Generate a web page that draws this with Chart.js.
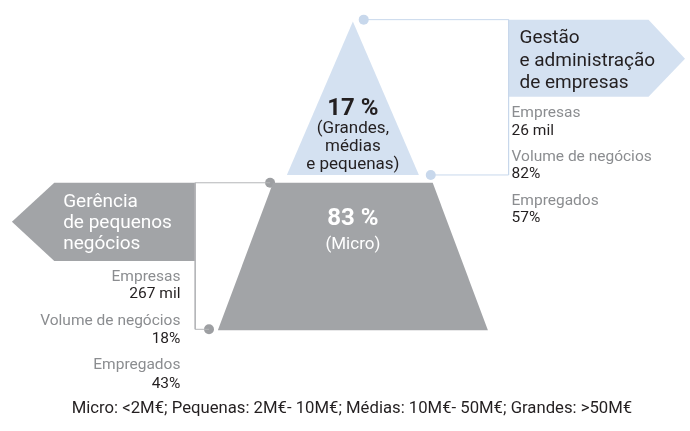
<!DOCTYPE html>
<html>
<head>
<meta charset="utf-8">
<script src="https://cdn.jsdelivr.net/npm/chart.js@4.4.1/dist/chart.umd.min.js"></script>
<style>
  html, body { margin: 0; padding: 0; background: #fff; }
  canvas { display: block; }
</style>
</head>
<body>
<canvas id="pyramid" width="690" height="431"></canvas>
<script>
// Data
const shares = [17, 83];                       // % of companies: top (Grandes, médias, pequenas), bottom (Micro)
const segmentNames = [['(Grandes,', 'médias', 'e pequenas)'], ['(Micro)']];
const topTitle = ['Gestão', 'e administração', 'de empresas'];
const bottomTitle = ['Gerência', 'de pequenos', 'negócios'];
const statNames = ['Empresas', 'Volume de negócios', 'Empregados'];
const topStats = ['26 mil', '82%', '57%'];
const bottomStats = ['267 mil', '18%', '43%'];
const footnote = 'Micro: <2M€; Pequenas: 2M€- 10M€; Médias: 10M€- 50M€; Grandes: >50M€';

// Layout (in the chart's own units, x 0..690, y 0..431 top-down)
const cx = 353;
const apexY = 17, splitY = 174, trapTop = 182, baseY = 333;
const triHalf = 67, trapTopHalf = 81, trapBaseHalf = 137;

const GRAY = '#a2a4a7';
const BLUE = '#d4e1f1';
const BLUE_DOT = '#c8d8ec';
const LABEL = '#8b8d90';
const DARK = '#231f20';
const FONT = 'Roboto, "Noto Sans", sans-serif';

const triangle = [
  { x: cx, y: apexY }, { x: cx + triHalf, y: splitY },
  { x: cx - triHalf, y: splitY }, { x: cx, y: apexY }
];
const trapezoid = [
  { x: cx - trapTopHalf, y: trapTop }, { x: cx + trapTopHalf, y: trapTop },
  { x: cx + trapBaseHalf, y: baseY }, { x: cx - trapBaseHalf, y: baseY },
  { x: cx - trapTopHalf, y: trapTop }
];
// banner boxes
const rightBox = [
  { x: 511, y: 15 }, { x: 653, y: 15 }, { x: 690, y: 55 },
  { x: 653, y: 94 }, { x: 511, y: 94 }, { x: 511, y: 15 }
];
const leftBox = [
  { x: 193, y: 182 }, { x: 50, y: 182 }, { x: 7, y: 222 },
  { x: 50, y: 262 }, { x: 193, y: 262 }, { x: 193, y: 182 }
];
// connectors
const rightLine = [{ x: 364, y: 15 }, { x: 511, y: 15 }, { x: 511, y: 174 }, { x: 432, y: 174 }];
const leftLine = [{ x: 269, y: 182 }, { x: 193, y: 182 }, { x: 193, y: 332 }, { x: 207, y: 332 }];

function shape(data, color) {
  return {
    data, showLine: true, fill: 'shape', backgroundColor: color,
    borderColor: color, borderWidth: 0, pointRadius: 0, tension: 0
  };
}
function connector(data, color) {
  return {
    data, showLine: true, fill: false, borderColor: color,
    borderWidth: 1, pointRadius: 0, tension: 0
  };
}
function dots(data, color) {
  return {
    data: [data[0], data[data.length - 1]], showLine: false,
    pointRadius: 5, pointBackgroundColor: color, pointBorderWidth: 0
  };
}

const textPlugin = {
  id: 'texts',
  afterDatasetsDraw(chart) {
    const { ctx, scales: { x, y } } = chart;
    const px = v => x.getPixelForValue(v);
    const py = v => y.getPixelForValue(v);
    function put(str, vx, vy, opts) {
      ctx.font = opts.font;
      ctx.fillStyle = opts.color;
      ctx.textAlign = opts.align || 'left';
      ctx.textBaseline = 'alphabetic';
      ctx.fillText(str, px(vx), py(vy));
    }
    ctx.save();
    // shares in the pyramid
    put(shares[0] + ' %', cx, 113, { font: 'bold 24px ' + FONT, color: DARK, align: 'center' });
    segmentNames[0].forEach((s, i) =>
      put(s, cx, 131 + i * 18.5, { font: '17px ' + FONT, color: DARK, align: 'center' }));
    put(shares[1] + ' %', cx, 225, { font: 'bold 24px ' + FONT, color: '#fff', align: 'center' });
    segmentNames[1].forEach((s, i) =>
      put(s, cx, 250 + i * 18, { font: '17px ' + FONT, color: '#fff', align: 'center' }));

    // banners
    topTitle.forEach((s, i) =>
      put(s, 522, 39 + i * 23, { font: '19px ' + FONT, color: DARK }));
    bottomTitle.forEach((s, i) =>
      put(s, 59, 207 + i * 21.5, { font: '19px ' + FONT, color: '#fff' }));

    // stats
    statNames.forEach((s, i) => {
      put(s, 514, 115 + i * 45, { font: '15.5px ' + FONT, color: LABEL });
      put(topStats[i], 514, 133 + i * 44.5, { font: '15.5px ' + FONT, color: DARK });
      put(s, 178, 283 + i * 45, { font: '15.5px ' + FONT, color: LABEL, align: 'right' });
      put(bottomStats[i], 178, 300 + i * 46, { font: '15.5px ' + FONT, color: DARK, align: 'right' });
    });

    put(footnote, 352, 418, { font: '16.7px ' + FONT, color: DARK, align: 'center' });
    ctx.restore();
  }
};

new Chart(document.getElementById('pyramid'), {
  type: 'scatter',
  data: {
    datasets: [
      connector(rightLine, BLUE_DOT),
      connector(leftLine, '#b4b6b8'),
      shape(triangle, BLUE),
      shape(trapezoid, GRAY),
      shape(rightBox, BLUE),
      shape(leftBox, GRAY),
      dots(rightLine, BLUE_DOT),
      dots(leftLine, '#9d9fa2')
    ]
  },
  options: {
    responsive: false,
    animation: false,
    layout: { padding: 0 },
    plugins: { legend: { display: false }, tooltip: { enabled: false } },
    scales: {
      x: { type: 'linear', min: 0, max: 690, display: false },
      y: { type: 'linear', min: 0, max: 431, reverse: true, display: false }
    }
  },
  plugins: [textPlugin]
});
</script>
</body>
</html>
